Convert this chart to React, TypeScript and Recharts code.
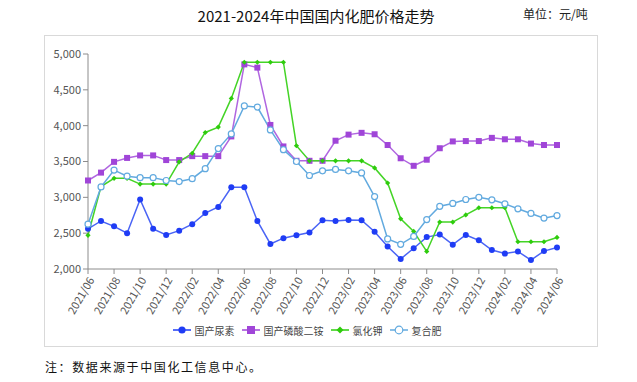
import React from 'react';
import { LineChart, Line, XAxis, YAxis, Legend } from 'recharts';

const months = [
  '2021/06', '2021/07', '2021/08', '2021/09', '2021/10', '2021/11', '2021/12',
  '2022/01', '2022/02', '2022/03', '2022/04', '2022/05', '2022/06', '2022/07',
  '2022/08', '2022/09', '2022/10', '2022/11', '2022/12', '2023/01', '2023/02',
  '2023/03', '2023/04', '2023/05', '2023/06', '2023/07', '2023/08', '2023/09',
  '2023/10', '2023/11', '2023/12', '2024/01', '2024/02', '2024/03', '2024/04',
  '2024/05', '2024/06',
];

const urea = [
  2560, 2670, 2595, 2500, 2970, 2560, 2475, 2535, 2625, 2780, 2865, 3140, 3140,
  2670, 2350, 2430, 2470, 2510, 2680, 2670, 2685, 2680, 2520, 2315, 2140, 2290,
  2445, 2480, 2340, 2475, 2400, 2265, 2215, 2245, 2125, 2250, 2300,
];

const dap = [
  3235, 3345, 3495, 3550, 3585, 3585, 3520, 3520, 3575, 3575, 3575, 3850, 4855,
  4810, 4010, 3710, 3510, 3510, 3510, 3790, 3875, 3900, 3880, 3730, 3545, 3440,
  3525, 3685, 3780, 3785, 3785, 3830, 3810, 3810, 3750, 3730, 3730,
];

const kcl = [
  2470, 3150, 3265, 3265, 3185, 3185, 3185, 3495, 3615, 3905, 3980, 4380, 4885,
  4885, 4885, 4885, 3720, 3510, 3510, 3510, 3510, 3510, 3410, 3200, 2700, 2525,
  2245, 2655, 2655, 2755, 2855, 2855, 2855, 2380, 2380, 2380, 2440,
];

const compound = [
  2625, 3145, 3380, 3295, 3275, 3275, 3235, 3220, 3260, 3400, 3680, 3885, 4275,
  4260, 3940, 3665, 3500, 3305, 3370, 3390, 3370, 3340, 3010, 2420, 2345, 2455,
  2690, 2875, 2915, 2970, 3000, 2965, 2910, 2840, 2775, 2710, 2745,
];

const yTicks = [2000, 2500, 3000, 3500, 4000, 4500, 5000];

const data = months.map((m, i) => ({
  month: m,
  urea: urea[i],
  dap: dap[i],
  kcl: kcl[i],
  compound: compound[i],
}));

const UREA = '#1f3cf5';
const DAP = '#a045d8';
const KCL = '#2ecc0c';
const COMP = '#62aadf';

const SquareDot = (props: any) => {
  const { cx, cy, index } = props;
  if (cx == null || cy == null) return null;
  return <rect key={index} x={cx - 3} y={cy - 3} width={6} height={6} fill={DAP} />;
};

const DiamondDot = (props: any) => {
  const { cx, cy, index } = props;
  if (cx == null || cy == null) return null;
  const r = 2.6;
  return (
    <polygon
      key={index}
      points={`${cx},${cy - r} ${cx + r},${cy} ${cx},${cy + r} ${cx - r},${cy}`}
      fill={KCL}
    />
  );
};

const legendItems = [
  { name: '国产尿素', color: UREA, shape: 'circle' },
  { name: '国产磷酸二铵', color: DAP, shape: 'square' },
  { name: '氯化钾', color: KCL, shape: 'diamond' },
  { name: '复合肥', color: COMP, shape: 'open' },
];

const LegendContent = () => (
  <div style={{ display: 'flex', justifyContent: 'center', alignItems: 'center', height: 20, paddingLeft: 26 }}>
    {legendItems.map((it) => (
      <div key={it.name} style={{ display: 'flex', alignItems: 'center', marginRight: 7 }}>
        <svg width={18} height={10} style={{ marginRight: 4 }}>
          <line x1={0} y1={5} x2={18} y2={5} stroke={it.color} strokeWidth={1.5} />
          {it.shape === 'circle' && <circle cx={9} cy={5} r={3.6} fill={it.color} />}
          {it.shape === 'square' && <rect x={5} y={1} width={8} height={8} fill={it.color} />}
          {it.shape === 'diamond' && (
            <polygon points="9,1.5 12.5,5 9,8.5 5.5,5" fill={it.color} />
          )}
          {it.shape === 'open' && (
            <circle cx={9} cy={5} r={3.8} fill="#fff" stroke={it.color} strokeWidth={1.2} />
          )}
        </svg>
        <span style={{ fontSize: 10, color: '#444' }}>{it.name}</span>
      </div>
    ))}
  </div>
);

export default function App() {
  return (
    <div
      style={{
        position: 'absolute',
        left: 0,
        top: 0,
        width: 637,
        height: 382,
        background: '#fff',
        fontFamily: '"Noto Sans CJK SC", "Liberation Sans", sans-serif',
      }}
    >
      <div
        style={{
          position: 'absolute',
          left: 0,
          width: 632,
          top: 5,
          textAlign: 'center',
          fontSize: 15,
          color: '#111',
        }}
      >
        2021-2024年中国国内化肥价格走势
      </div>
      <div style={{ position: 'absolute', left: 523, top: 5, fontSize: 12, color: '#222' }}>
        单位：元/吨
      </div>
      <div
        style={{
          position: 'absolute',
          left: 44,
          top: 35,
          width: 552,
          height: 310,
          border: '1px solid #d9d9d9',
        }}
      />
      <div
        style={{
          position: 'absolute',
          left: 45,
          top: 358,
          fontSize: 12,
          letterSpacing: 1.6,
          color: '#111',
        }}
      >
        注：数据来源于中国化工信息中心。
      </div>
      <div style={{ position: 'absolute', left: 0, top: 0 }}>
        <LineChart
          width={637}
          height={382}
          data={data}
          margin={{ top: 54, right: 80, bottom: 42, left: 38 }}
        >
          <XAxis
            dataKey="month"
            interval={1}
            height={51}
            axisLine={{ stroke: '#8c8c8c' }}
            tickLine={{ stroke: '#8c8c8c' }}
            tickSize={5}
            tick={{ fontSize: 11, fill: '#555', angle: -60, textAnchor: 'end' }}
          />
          <YAxis
            domain={[2000, 5000]}
            ticks={yTicks}
            width={50}
            axisLine={{ stroke: '#8c8c8c' }}
            tickLine={{ stroke: '#8c8c8c' }}
            tickSize={5}
            tick={{ fontSize: 11, fill: '#555' }}
            tickFormatter={(v: number) => v.toLocaleString('en-US')}
          />
          <Legend verticalAlign="bottom" height={20} content={<LegendContent />} />
          <Line
            dataKey="urea"
            name="国产尿素"
            stroke="#4a64f5"
            strokeWidth={1.5}
            dot={{ r: 3, fill: UREA, stroke: UREA, strokeWidth: 0 }}
            isAnimationActive={false}
          />
          <Line
            dataKey="dap"
            name="国产磷酸二铵"
            stroke="#b066e0"
            strokeWidth={1.5}
            dot={<SquareDot />}
            isAnimationActive={false}
          />
          <Line
            dataKey="kcl"
            name="氯化钾"
            stroke="#44d426"
            strokeWidth={1.5}
            dot={<DiamondDot />}
            isAnimationActive={false}
          />
          <Line
            dataKey="compound"
            name="复合肥"
            stroke={COMP}
            strokeWidth={1.5}
            dot={{ r: 3, fill: '#fff', stroke: COMP, strokeWidth: 1.2 }}
            isAnimationActive={false}
          />
        </LineChart>
      </div>
    </div>
  );
}
